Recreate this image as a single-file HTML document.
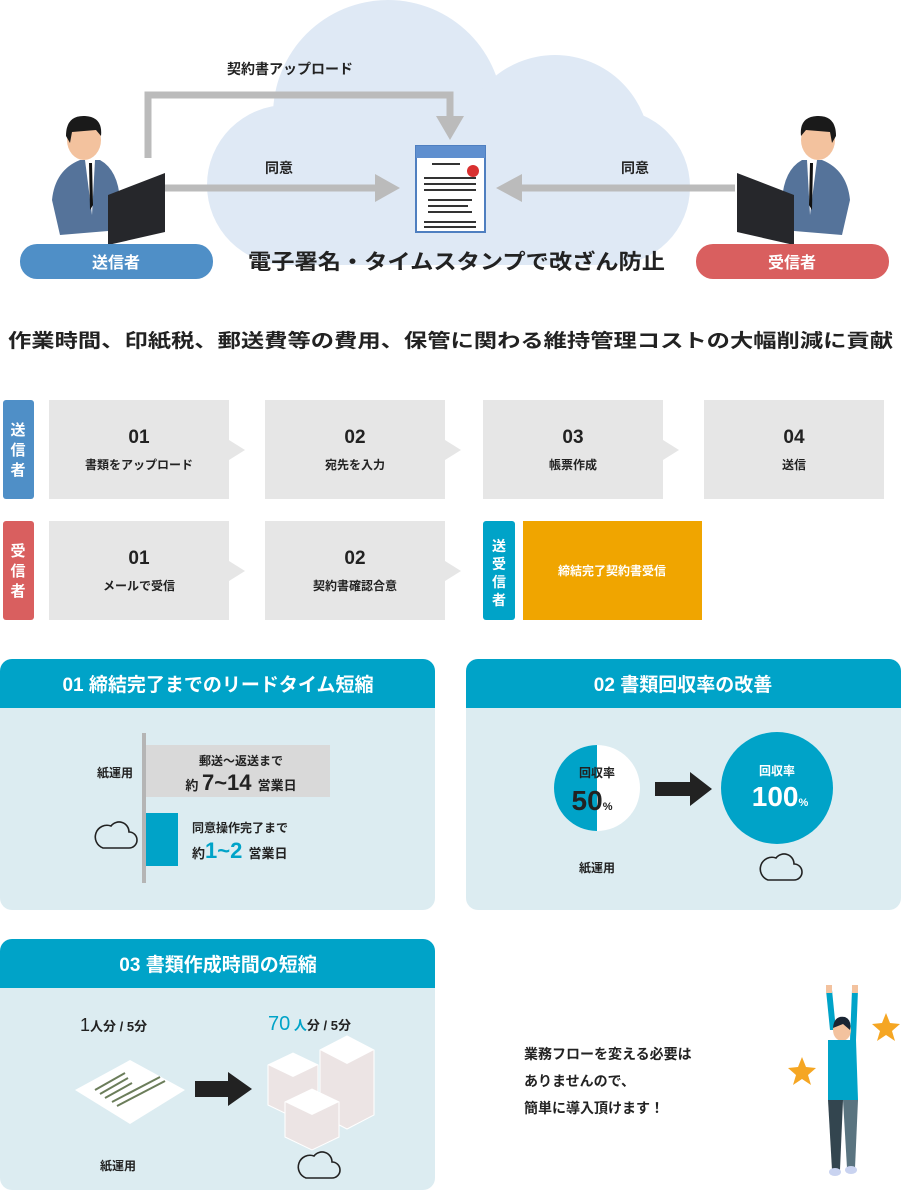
<!DOCTYPE html>
<html><head><meta charset="utf-8"><style>
html,body{margin:0;padding:0;background:#fff}
svg{display:block}
text{font-family:"Liberation Sans","Noto Sans CJK JP",sans-serif;font-weight:bold}
</style></head><body>
<svg width="902" height="1191" viewBox="0 0 902 1191" xmlns="http://www.w3.org/2000/svg">
<defs>
<g id="cloudic"><path d="M-12,10 h26 a8,8 0 0 0 0,-16 a10,10 0 0 0 -18,-6 a8,8 0 0 0 -8,22 z" fill="none" stroke="#222" stroke-width="1.6"/></g>
</defs>
<!-- cloud -->
<g fill="#dfe9f5">
<circle cx="388" cy="115" r="115"/><circle cx="555" cy="150" r="95"/>
<circle cx="287" cy="185" r="80"/><circle cx="612" cy="187" r="78"/>
<rect x="287" y="140" width="325" height="125"/>
</g>
<!-- arrows -->
<g fill="none" stroke="#bbbbbb" stroke-width="7">
<polyline points="148,158 148,95 450,95 450,118"/>
<line x1="165" y1="188" x2="378" y2="188"/>
<line x1="735" y1="188" x2="520" y2="188"/>
</g>
<g fill="#bbbbbb">
<polygon points="436,116 464,116 450,140"/>
<polygon points="375,174 375,202 400,188"/>
<polygon points="522,174 522,202 496,188"/>
</g>
<text x="227" y="74" font-size="14" fill="#222">契約書アップロード</text>
<text x="265" y="173" font-size="14" fill="#222">同意</text>
<text x="621" y="173" font-size="14" fill="#222">同意</text>
<!-- document -->
<rect x="416" y="146" width="69" height="86" fill="#fff" stroke="#4f7fc0" stroke-width="2"/>
<rect x="416" y="146" width="69" height="12" fill="#5f8fcf"/>
<circle cx="473" cy="171" r="6" fill="#d93030"/>
<g fill="#333"><rect x="432" y="163" width="28" height="2"/><rect x="424" y="177" width="52" height="2"/><rect x="424" y="183" width="52" height="2"/><rect x="424" y="189" width="52" height="2"/><rect x="428" y="199" width="44" height="2"/><rect x="428" y="205" width="40" height="2"/><rect x="428" y="211" width="44" height="2"/><rect x="424" y="221" width="52" height="2"/><rect x="424" y="226" width="52" height="2"/></g>
<!-- sender person -->
<g>
<path d="M52,200 Q55,170 80,160 L100,160 Q118,170 120,200 L120,230 L60,235 Z" fill="#55739a"/>
<path d="M85,160 L95,160 L92,215 Z" fill="#fff"/><path d="M89,163 L92,163 L93,205 L90,210Z" fill="#111"/>
<ellipse cx="84" cy="140" rx="17" ry="20" fill="#f3c29e"/>
<path d="M66,136 Q66,115 85,116 Q103,117 101,136 L96,130 L72,132 L70,143Z" fill="#1a1a1a"/>
<polygon points="108,195 165,173 165,232 108,245" fill="#26272b"/>
</g>
<g>
<path d="M850,200 Q847,170 822,160 L802,160 Q784,170 782,200 L782,230 L842,235 Z" fill="#55739a"/>
<path d="M817,160 L807,160 L810,215 Z" fill="#fff"/><path d="M813,163 L810,163 L809,205 L812,210Z" fill="#111"/>
<ellipse cx="818" cy="140" rx="17" ry="20" fill="#f3c29e"/>
<path d="M836,136 Q836,115 817,116 Q799,117 801,136 L806,130 L830,132 L832,143Z" fill="#1a1a1a"/>
<polygon points="794,195 737,173 737,232 794,245" fill="#26272b"/>
</g>
<rect x="20" y="244" width="193" height="35" rx="17" fill="#4f8fc7"/>
<text x="116" y="268" font-size="16" fill="#fff" text-anchor="middle">送信者</text>
<rect x="696" y="244" width="193" height="35" rx="17" fill="#d95f5f"/>
<text x="792" y="268" font-size="16" fill="#fff" text-anchor="middle">受信者</text>
<text x="248" y="269" font-size="21" fill="#222" textLength="417" lengthAdjust="spacingAndGlyphs">電子署名・タイムスタンプで改ざん防止</text>
<text x="8" y="347" font-size="19" fill="#222" textLength="885" lengthAdjust="spacingAndGlyphs">作業時間、印紙税、郵送費等の費用、保管に関わる維持管理コストの大幅削減に貢献</text>
<!-- flow row 1 -->
<rect x="3" y="400" width="31" height="99" rx="3" fill="#4f8fc7"/>
<text font-size="15" fill="#fff" text-anchor="middle"><tspan x="18" y="435">送</tspan><tspan x="18" y="455">信</tspan><tspan x="18" y="475">者</tspan></text>
<g fill="#e6e6e6">
<rect x="49" y="400" width="180" height="99"/><polygon points="229,440 245,450 229,460"/>
<rect x="265" y="400" width="180" height="99"/><polygon points="445,440 461,450 445,460"/>
<rect x="483" y="400" width="180" height="99"/><polygon points="663,440 679,450 663,460"/>
<rect x="704" y="400" width="180" height="99"/>
<rect x="49" y="521" width="180" height="99"/><polygon points="229,561 245,571 229,581"/>
<rect x="265" y="521" width="180" height="99"/><polygon points="445,561 461,571 445,581"/>
</g>
<g fill="#222" text-anchor="middle">
<text x="139" y="443" font-size="19">01</text><text x="139" y="469" font-size="12">書類をアップロード</text>
<text x="355" y="443" font-size="19">02</text><text x="355" y="469" font-size="12">宛先を入力</text>
<text x="573" y="443" font-size="19">03</text><text x="573" y="469" font-size="12">帳票作成</text>
<text x="794" y="443" font-size="19">04</text><text x="794" y="469" font-size="12">送信</text>
<text x="139" y="564" font-size="19">01</text><text x="139" y="590" font-size="12">メールで受信</text>
<text x="355" y="564" font-size="19">02</text><text x="355" y="590" font-size="12">契約書確認合意</text>
</g>
<rect x="3" y="521" width="31" height="99" rx="3" fill="#d95f5f"/>
<text font-size="15" fill="#fff" text-anchor="middle"><tspan x="18" y="556">受</tspan><tspan x="18" y="576">信</tspan><tspan x="18" y="596">者</tspan></text>
<rect x="483" y="521" width="32" height="99" rx="3" fill="#00a3c8"/>
<text font-size="14" fill="#fff" text-anchor="middle"><tspan x="499" y="551">送</tspan><tspan x="499" y="569">受</tspan><tspan x="499" y="587">信</tspan><tspan x="499" y="605">者</tspan></text>
<rect x="523" y="521" width="179" height="99" fill="#f0a500"/>
<text x="612" y="575" font-size="12" fill="#fff" text-anchor="middle">締結完了契約書受信</text>
<!-- panel 01 -->
<rect x="0" y="659" width="435" height="251" rx="12" fill="#dcecf1"/>
<path d="M0,708 V671 a12,12 0 0 1 12,-12 H423 a12,12 0 0 1 12,12 V708Z" fill="#00a3c8"/>
<text x="218" y="691" font-size="19" fill="#fff" text-anchor="middle">01 締結完了までのリードタイム短縮</text>
<rect x="142" y="733" width="4" height="150" fill="#b5b5b5"/>
<rect x="146" y="745" width="184" height="52" fill="#d9d9d9"/>
<rect x="146" y="813" width="32" height="53" fill="#00a3c8"/>
<text x="115" y="777" font-size="12" fill="#222" text-anchor="middle">紙運用</text>
<use href="#cloudic" x="115" y="838"/>
<text x="241" y="765" font-size="12" fill="#222" text-anchor="middle">郵送～返送まで</text>
<text x="241" y="790" fill="#222" text-anchor="middle"><tspan font-size="13">約 </tspan><tspan font-size="22">7~14 </tspan><tspan font-size="13">営業日</tspan></text>
<text x="192" y="832" font-size="12" fill="#222">同意操作完了まで</text>
<text x="192" y="858" fill="#222"><tspan font-size="13">約</tspan><tspan font-size="22" fill="#00a3c8">1~2 </tspan><tspan font-size="13">営業日</tspan></text>
<!-- panel 02 -->
<rect x="466" y="659" width="435" height="251" rx="12" fill="#dcecf1"/>
<path d="M466,708 V671 a12,12 0 0 1 12,-12 H889 a12,12 0 0 1 12,12 V708Z" fill="#00a3c8"/>
<text x="683" y="691" font-size="19" fill="#fff" text-anchor="middle">02 書類回収率の改善</text>
<circle cx="597" cy="788" r="43" fill="#fff"/>
<path d="M597,745 A43,43 0 0 0 597,831 Z" fill="#00a3c8"/>
<text x="597" y="777" font-size="12" fill="#222" text-anchor="middle">回収率</text>
<text x="592" y="810" font-size="28" fill="#222" text-anchor="middle" font-weight="normal">50<tspan font-size="11">%</tspan></text>
<polygon points="655,782 690,782 690,772 712,789 690,806 690,796 655,796" fill="#222"/>
<circle cx="777" cy="788" r="56" fill="#00a3c8"/>
<text x="777" y="775" font-size="12" fill="#fff" text-anchor="middle">回収率</text>
<text x="780" y="806" font-size="28" fill="#fff" text-anchor="middle" font-weight="normal">100<tspan font-size="11">%</tspan></text>
<text x="597" y="872" font-size="12" fill="#222" text-anchor="middle">紙運用</text>
<use href="#cloudic" x="780" y="870"/>
<!-- panel 03 -->
<rect x="0" y="939" width="435" height="251" rx="12" fill="#dcecf1"/>
<path d="M0,988 V951 a12,12 0 0 1 12,-12 H423 a12,12 0 0 1 12,12 V988Z" fill="#00a3c8"/>
<text x="218" y="971" font-size="19" fill="#fff" text-anchor="middle">03 書類作成時間の短縮</text>
<text x="80" y="1031" fill="#222"><tspan font-size="18" font-weight="normal">1</tspan><tspan font-size="13">人分 / 5分</tspan></text>
<text x="268" y="1030" fill="#222"><tspan font-size="20" fill="#00a3c8" font-weight="normal">70</tspan><tspan font-size="13" fill="#00a3c8"> 人</tspan><tspan font-size="13">分 / 5分</tspan></text>
<polygon points="75,1090 130,1060 185,1090 130,1124" fill="#fff"/>
<g stroke="#6b7d5a" stroke-width="2"><line x1="95" y1="1090" x2="125" y2="1073"/><line x1="100" y1="1094" x2="128" y2="1078"/><line x1="105" y1="1098" x2="132" y2="1083"/><line x1="112" y1="1102" x2="160" y2="1077"/><line x1="117" y1="1106" x2="165" y2="1081"/></g>
<polygon points="195,1081 228,1081 228,1072 252,1089 228,1106 228,1097 195,1097" fill="#222"/>
<g fill="#ece4e4" stroke="#fff" stroke-width="1">
<path d="M268,1065 l25,-12 l25,12 v40 l-25,12 l-25,-12z"/>
<path d="M320,1050 l27,-14 l27,14 v65 l-27,14 l-27,-14z"/>
<path d="M285,1102 l27,-13 l27,13 v35 l-27,13 l-27,-13z"/>
</g>
<g fill="#fff"><path d="M268,1065 l25,-12 l25,12 l-25,12z"/><path d="M320,1050 l27,-14 l27,14 l-27,14z"/><path d="M285,1102 l27,-13 l27,13 l-27,13z"/></g>
<text x="118" y="1170" font-size="12" fill="#222" text-anchor="middle">紙運用</text>
<use href="#cloudic" x="318" y="1168"/>
<!-- right text -->
<text font-size="14" fill="#222"><tspan x="524" y="1059">業務フローを変える必要は</tspan><tspan x="524" y="1086">ありませんので、</tspan><tspan x="524" y="1113">簡単に導入頂けます！</tspan></text>
<!-- jumping person -->
<g>
<path d="M826,990 L832,990 L836,1030 L830,1030Z" fill="#00a3c8"/>
<path d="M852,990 L858,990 L856,1040 L850,1040Z" fill="#00a3c8"/>
<rect x="826" y="985" width="6" height="8" fill="#f3c29e"/><rect x="852" y="985" width="6" height="8" fill="#f3c29e"/>
<ellipse cx="842" cy="1030" rx="9" ry="11" fill="#f3c29e"/>
<path d="M833,1028 Q834,1015 845,1017 Q852,1020 850,1030 L843,1024 Z" fill="#1a2533"/>
<path d="M828,1040 L856,1040 L858,1100 L828,1100Z" fill="#00a3c8"/>
<path d="M828,1100 L843,1100 L840,1170 L832,1170Z" fill="#33454f"/>
<path d="M843,1100 L858,1100 L855,1168 L847,1168Z" fill="#5a7480"/>
<ellipse cx="835" cy="1172" rx="6" ry="4" fill="#c9d3f0"/><ellipse cx="851" cy="1170" rx="6" ry="4" fill="#c9d3f0"/>
<polygon points="886,1013 890,1023 900,1024 892,1031 895,1041 886,1035 877,1041 880,1031 872,1024 882,1023" fill="#f5a623"/>
<polygon points="802,1057 806,1067 816,1068 808,1075 811,1085 802,1079 793,1085 796,1075 788,1068 798,1067" fill="#f5a623"/>
</g>
</svg>
</body></html>
